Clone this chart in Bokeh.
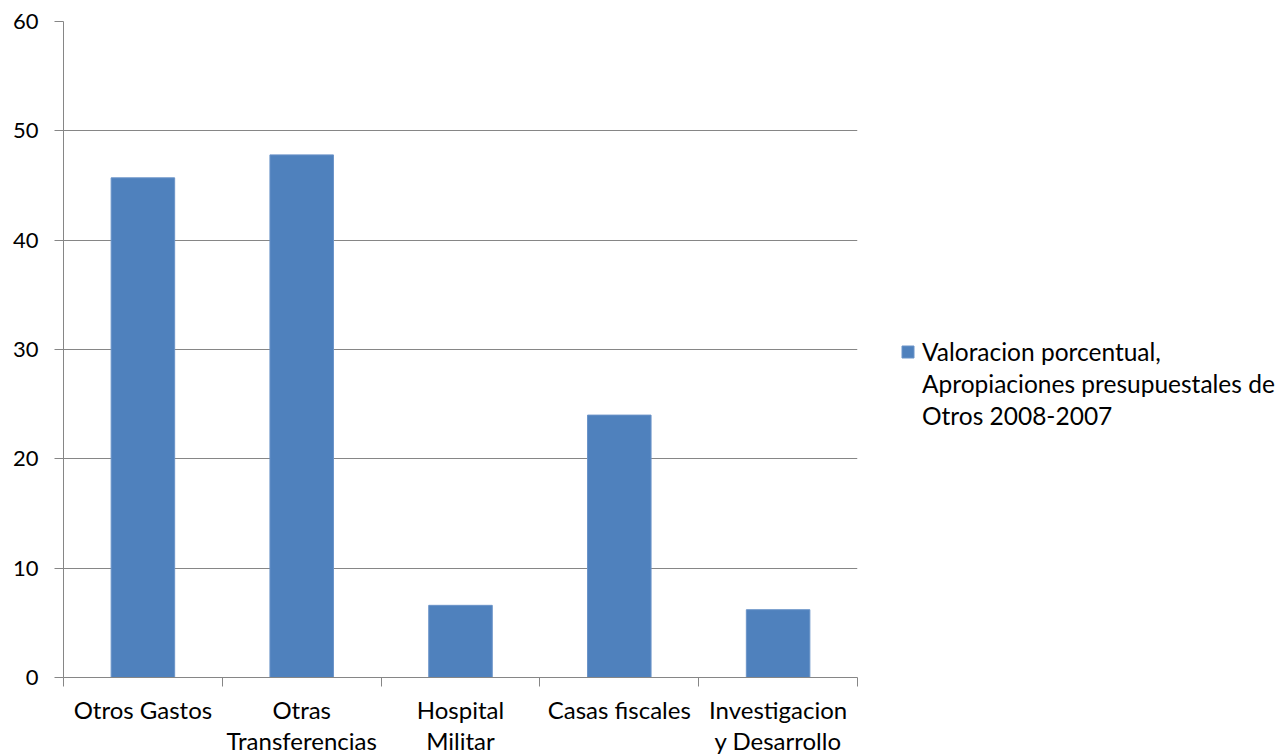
from bokeh.plotting import figure
from bokeh.models import Range1d, FixedTicker, Legend, LegendItem, ColumnDataSource
from bokeh.embed import file_html
from bokeh.resources import INLINE

categories = ["Otros Gastos", "Otras\nTransferencias", "Hospital\nMilitar", "Casas fiscales", "Investigacion\ny Desarrollo"]
values = [45.7, 47.8, 6.6, 24.0, 6.2]
y_ticks = [0, 10, 20, 30, 40, 50, 60]
legend_lines = ["Valoracion porcentual,", "Apropiaciones presupuestales de", "Otros 2008-2007"]

FONT = "Lato"
GRAY = "#868686"
BLUE = "#4F81BD"

xs = [i + 0.5 for i in range(len(categories))]
src = ColumnDataSource(data=dict(x=xs, top=values))

p = figure(frame_width=794, frame_height=656, output_backend="svg", toolbar_location=None,
           x_range=Range1d(0, len(categories)), y_range=Range1d(0, 60),
           min_border_left=63, min_border_top=21, min_border_bottom=62, min_border_right=409)
p.outline_line_color = None
r = p.vbar(x="x", top="top", width=0.4, source=src, fill_color=BLUE, line_color="#6A93C8", line_width=1)
dummy = p.vbar(x=[], top=[], width=0.4, fill_alpha=0, line_alpha=0)

xt = FixedTicker(ticks=xs, minor_ticks=list(range(len(categories) + 1)))
p.xaxis.ticker = xt
p.xaxis.major_label_overrides = {x: c for x, c in zip(xs, categories)}
p.xaxis.major_tick_out = 0
p.xaxis.major_tick_in = 0
p.xaxis.minor_tick_out = 9
p.xaxis.minor_tick_in = 0
p.xaxis.minor_tick_line_color = GRAY
p.xaxis.axis_line_color = GRAY
p.xaxis.major_label_standoff = 8
p.xaxis.major_label_text_line_height = 1.1
p.xaxis.major_label_text_font_size = "24px"

p.yaxis.ticker = FixedTicker(ticks=y_ticks, minor_ticks=[])
p.yaxis.major_tick_out = 9
p.yaxis.major_tick_in = 0
p.yaxis.major_tick_line_color = GRAY
p.yaxis.axis_line_color = GRAY
p.yaxis.major_label_standoff = 16
p.yaxis.major_label_text_font_size = "22px"

for ax in (p.xaxis, p.yaxis):
    ax.major_label_text_font = FONT
    ax.major_label_text_color = "#000000"

p.xgrid.grid_line_color = None
p.ygrid.grid_line_color = GRAY
p.ygrid.ticker = FixedTicker(ticks=y_ticks)

items = [LegendItem(label=legend_lines[0], renderers=[r])]
items += [LegendItem(label=t, renderers=[dummy]) for t in legend_lines[1:]]
legend = Legend(items=items, location=(43, 246), border_line_color=None,
                background_fill_alpha=0,
                label_text_font=FONT, label_text_font_size="24.5px",
                label_text_color="#000000",
                glyph_width=15, glyph_height=15, label_standoff=7,
                label_height=32, spacing=0, margin=0, padding=0)
p.add_layout(legend, "right")

open("out.html", "w").write(file_html(p, INLINE))
